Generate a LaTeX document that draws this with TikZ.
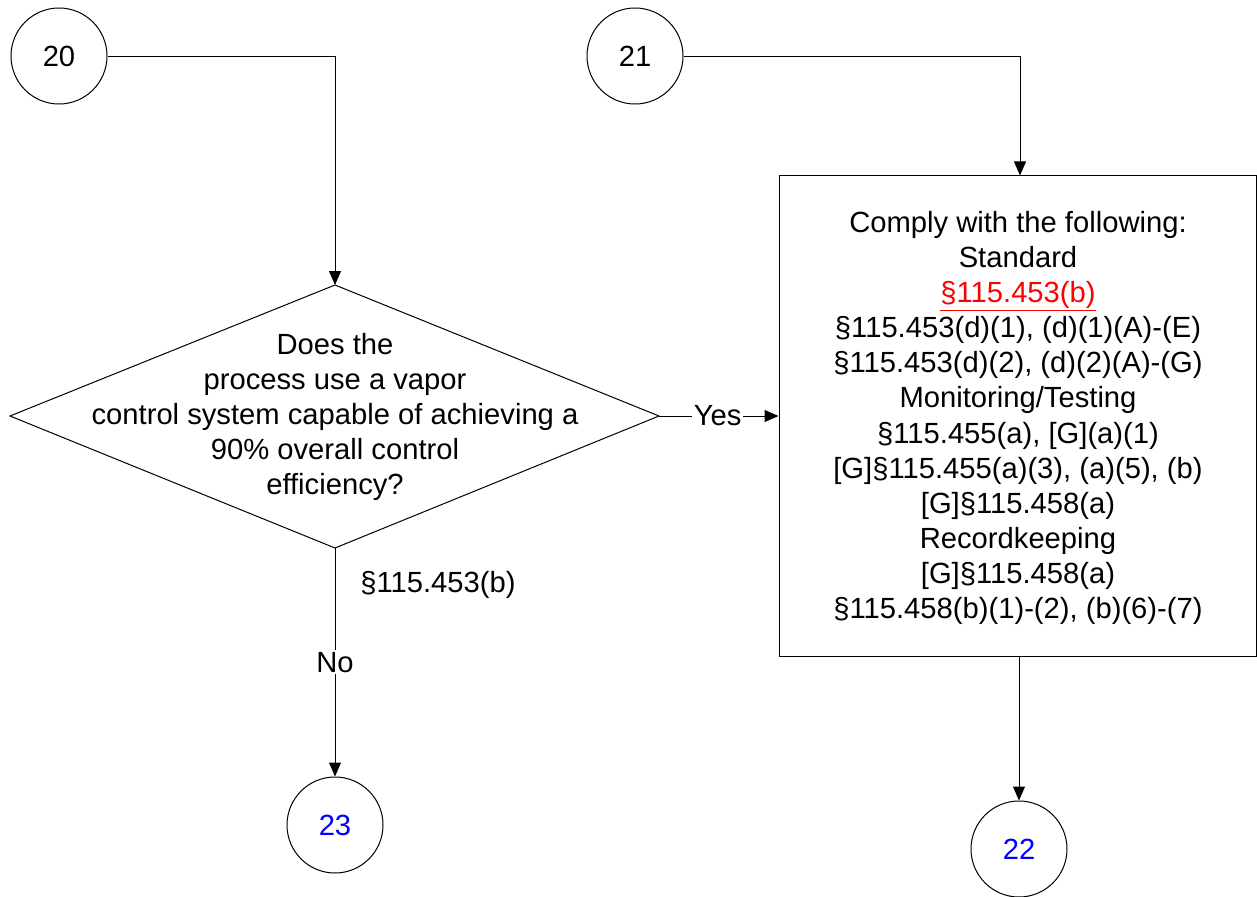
\documentclass[tikz,border=0pt]{standalone}
\usepackage{fontspec}
\setmainfont{Liberation Sans}
\usetikzlibrary{arrows.meta}
\definecolor{refblue}{RGB}{0,0,255}
\definecolor{refred}{RGB}{255,0,0}
\begin{document}
\begin{tikzpicture}[x=1bp,y=-1bp,
  every node/.style={font=\fontsize{29.3}{35.3}\selectfont},
  conn/.style={circle,draw,line width=1bp,minimum size=96bp,inner sep=0pt},
  flow/.style={line width=1bp},
  arr/.style={flow,-{Triangle[length=14bp,width=12bp]}},
  lbl/.style={fill=white,inner sep=2bp}]
\useasboundingbox (0,0) rectangle (1257,897);
% connectors circles
\node[conn] (c20) at (59,56) {20};
\node[conn] (c21) at (635,56) {21};
\node[conn,text=refblue] (c23) at (335,825) {23};
\node[conn,text=refblue] (c22) at (1019,849) {22};
% diamond
\coordinate (dtop) at (335,285);
\coordinate (dright) at (659,416);
\coordinate (dbot) at (335,548);
\coordinate (dleft) at (10,416);
\draw[flow] (dtop) -- (dright) -- (dbot) -- (dleft) -- cycle;
\node[align=center] (dtext) at (335,417) {Does the\\process use a vapor\\control system capable of achieving a\\90\% overall control\\efficiency?};
% box
\node[draw,line width=1bp,minimum width=477bp,minimum height=480bp,align=center,inner sep=0pt] (box) at (1017.5,416) {};
\node[align=center] (boxtext) at (1018,418) {Comply with the following:\\Standard\\\textcolor{refred}{\underline{§115.453(b)}}\\§115.453(d)(1), (d)(1)(A)-(E)\\§115.453(d)(2), (d)(2)(A)-(G)\\Monitoring/Testing\\§115.455(a), [G](a)(1)\\{}[G]§115.455(a)(3), (a)(5), (b)\\{}[G]§115.458(a)\\Recordkeeping\\{}[G]§115.458(a)\\§115.458(b)(1)-(2), (b)(6)-(7)};
% flows
\draw[arr] (c20.east) -| (dtop);
\draw[arr] (c21.east) -| (box.north -| 1020,0);
\draw[arr] (dright) -- node[lbl,pos=0.49] (yes) {Yes} (box.west);
\draw[arr] (dbot) -- node[lbl,pos=0.5] (no) {No} (c23.north);
\node (ref) at (438,585) {§115.453(b)};
\draw[arr] (box.south -| 1019,0) -- (c22.north);
\end{tikzpicture}
\end{document}
